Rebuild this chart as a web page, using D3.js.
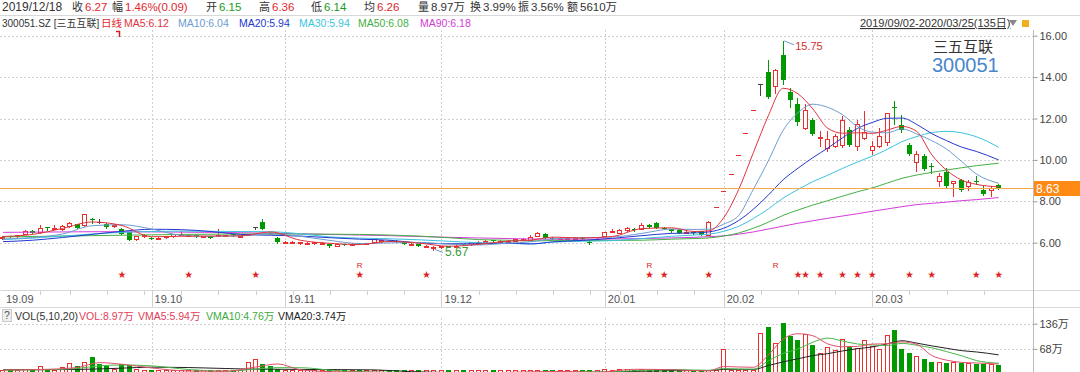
<!DOCTYPE html>
<html>
<head>
<meta charset="utf-8">
<script src="https://cdn.jsdelivr.net/npm/d3@7"></script>
<style>
  body { margin: 0; background: #fff; overflow: hidden; }
  svg { display: block; font-family: "Liberation Sans", "Noto Sans CJK SC", sans-serif; }
</style>
</head>
<body>
<svg id="chart" width="1080" height="372"></svg>
<script>
// ---- data (135 trading days, 2019/09/02 - 2020/03/25) ----
const opens = [6.24,6.30,6.30,6.42,6.58,6.50,6.76,6.70,6.64,6.80, 6.88,6.84,7.16,7.00,6.90,6.82,6.66,6.50,6.18,6.34,
  6.24,6.18,6.27,6.30,6.41,6.34,6.36,6.29,6.30,6.34, 6.34,6.40,6.30,6.40,6.74,7.00,6.48,6.23,6.02,6.03,
  6.00,5.98,5.98,5.96,5.94,5.84,5.94,5.95,5.98,5.96, 6.02,6.06,6.10,6.10,6.02,5.94,5.94,5.84,5.78,5.80,
  5.84,5.82,5.94,5.92,6.00,6.04,6.12,6.08,6.08,6.10, 6.14,6.15,6.34,6.44,6.24,6.22,6.22,6.22,6.25,6.04,
  6.18,6.34,6.56,6.47,6.60,6.64,6.66,6.87,6.95,6.72, 6.66,6.63,6.50,6.52,6.55,6.39,7.71,8.48,9.33,10.26,
  11.29,12.42,13.66,14.23,13.55,15.08,13.26,12.71,11.52,11.91, 11.08,10.57,10.69,10.73,11.46,10.65,11.06,10.46,10.69,10.85,
  12.56,11.70,10.73,9.88,10.20,9.70,8.96,9.40,8.88,9.01, 8.72,8.97,8.53,8.56,8.80];
const highs = [6.30,6.33,6.38,6.62,6.62,6.86,6.78,6.84,6.84,7.00, 6.92,7.40,7.18,7.15,6.94,6.90,6.70,6.52,6.32,6.40,
  6.28,6.26,6.33,6.42,6.55,6.40,6.38,6.34,6.32,6.68, 6.38,6.42,6.34,6.44,6.74,7.16,6.52,6.26,6.06,6.08,
  6.04,6.02,6.02,6.01,5.96,5.94,5.96,5.98,6.00,6.00, 6.20,6.14,6.14,6.12,6.04,5.98,5.96,5.89,5.82,5.84,
  5.86,5.88,5.96,6.03,6.06,6.12,6.14,6.14,6.12,6.20, 6.24,6.36,6.50,6.46,6.28,6.26,6.28,6.26,6.27,6.06,
  6.24,6.54,6.66,6.66,6.76,6.70,6.94,6.90,7.00,6.76, 6.68,6.65,6.56,6.54,6.58,7.03,7.71,8.48,9.33,10.26,
  11.29,12.42,13.66,14.81,14.40,15.75,13.47,12.99,12.71,12.02, 11.38,11.38,11.25,12.13,11.60,11.94,12.34,10.89,11.54,12.27,
  12.83,12.18,10.81,10.41,10.29,9.85,9.37,9.60,8.98,9.08, 9.04,9.20,8.72,8.72,8.84];
const lows = [6.20,6.26,6.28,6.40,6.46,6.48,6.62,6.66,6.60,6.76, 6.70,6.80,6.95,6.95,6.72,6.78,6.40,6.12,6.15,6.28,
  6.18,6.16,6.25,6.28,6.38,6.30,6.28,6.26,6.22,6.32, 6.30,6.34,6.28,6.36,6.65,6.66,6.44,6.00,5.98,6.00,
  5.96,5.95,5.94,5.94,5.80,5.82,5.90,5.92,5.93,5.93, 6.00,6.03,6.06,6.02,5.94,5.90,5.84,5.80,5.67,5.76,
  5.78,5.80,5.88,5.90,5.98,6.02,6.04,6.06,6.06,6.08, 6.12,6.14,6.32,6.22,6.20,6.18,6.20,6.18,6.18,5.92,
  6.14,6.32,6.52,6.45,6.58,6.58,6.64,6.74,6.70,6.66, 6.52,6.45,6.48,6.44,6.37,6.37,7.71,8.48,9.33,10.26,
  11.29,12.42,13.15,12.99,13.23,13.68,12.56,11.70,11.49,11.20, 10.69,10.41,10.60,10.62,10.65,10.49,11.00,10.30,10.60,10.70,
  11.73,11.33,10.25,9.44,9.50,9.37,8.72,8.70,8.24,8.48, 8.56,8.85,8.32,8.24,8.60];
const closes = [6.28,6.29,6.35,6.58,6.48,6.72,6.74,6.72,6.80,6.95, 6.72,7.38,7.14,7.00,6.74,6.86,6.42,6.14,6.30,6.35,
  6.22,6.23,6.30,6.40,6.42,6.36,6.30,6.31,6.23,6.36, 6.36,6.36,6.32,6.42,6.74,6.68,6.46,6.02,6.04,6.04,
  6.02,6.00,6.01,5.99,5.82,5.92,5.92,5.96,5.95,5.97, 6.18,6.12,6.09,6.04,5.96,5.95,5.85,5.86,5.80,5.82,
  5.80,5.86,5.90,6.01,6.04,6.10,6.06,6.09,6.10,6.18, 6.18,6.27,6.46,6.24,6.23,6.23,6.24,6.23,6.20,6.02,
  6.20,6.50,6.57,6.63,6.70,6.62,6.87,6.76,6.71,6.70, 6.55,6.47,6.53,6.47,6.39,7.01,7.71,8.48,9.33,10.26,
  11.29,12.42,13.66,13.02,14.32,13.87,12.91,11.81,12.42,11.27, 11.12,11.01,11.14,11.91,10.73,11.75,11.33,10.69,11.17,12.27,
  12.52,11.46,10.30,10.29,9.56,9.66,9.24,8.75,8.96,8.53, 8.91,8.96,8.37,8.64,8.63];
// volume, unit: 万
const volumes = [10,8,9,14,10,21,9,10,19,30, 21,33,45,26,21,15,26,24,14,10,
  9,7,8,9,10,7,8,6,7,10, 7,6,7,33,42,26,21,15,10,7,
  6,5,6,5,8,6,5,4,5,4, 7,6,3,2.8,3,2.5,3,2.5,3.2,2.4,
  2.5,2.3,4,4,3.5,3.4,3,5,5,5, 5.7,8.97,10,8,5,4,4,4,5,6,
  5,14,12,13,14,12,15,12,13,10, 9,8,7,7,9,12,6,68,5,5,
  6,8,110,128,85,137,103,92,107,79, 58,72,64,96,72,70,92,75,67,105,
  120,68,58,50,42,33,33,30,32,30, 30,28,26,27,25];

const maIdx = [0,4,8,12,16,20,24,28,32,36, 40,44,48,52,56,60,64,68,71,74, 78,82,86,90,93,95,97,99,101,103,
  105,107,109,111,113,115,117,119,121,123, 125,127,129,131,134];
const ma5 = [6.30,6.40,6.69,7.00,6.83,6.29,6.31,6.32,6.33,6.52, 6.12,5.97,5.91,6.06,5.98,5.83,5.92,6.08,6.12,6.27,
  6.23,6.30,6.68,6.72,6.54,6.57,7.21,8.56,10.36,12.13, 13.46,13.19,12.46,11.53,11.29,11.31,11.28,11.44,11.62,11.37,
  10.25,9.50,9.03,8.82,8.70];
const ma10 = [6.18,6.25,6.42,6.82,6.87,6.66,6.36,6.31,6.34,6.42, 6.31,6.11,5.96,5.99,6.01,5.93,5.89,5.98,6.04,6.19,
  6.24,6.27,6.45,6.66,6.64,6.65,6.90,7.31,8.59,9.95, 11.43,12.28,12.69,12.54,12.18,11.61,11.34,11.31,11.50,11.25,
  10.93,10.52,9.93,9.32,8.87];
const ma20 = [6.05,6.12,6.25,6.40,6.55,6.65,6.63,6.54,6.40,6.36, 6.32,6.24,6.17,6.12,5.99,5.95,5.95,5.98,5.94,6.04,
  6.11,6.21,6.34,6.45,6.47,6.52,6.70,7.07,7.62,8.30, 9.04,9.60,10.11,10.57,11.07,11.52,11.81,12.01,12.02,11.71,
  11.27,10.93,10.62,10.41,10.00];
const ma30 = [6.15,6.22,6.32,6.42,6.50,6.54,6.56,6.55,6.54,6.53, 6.43,6.28,6.22,6.19,6.14,6.07,6.00,5.97,5.94,6.03,
  6.07,6.10,6.20,6.31,6.37,6.41,6.55,6.79,7.17,7.63, 8.16,8.57,8.95,9.26,9.59,9.90,10.18,10.51,10.88,11.13,
  11.32,11.38,11.31,11.12,10.61];
const ma50 = [6.28,6.30,6.32,6.34,6.36,6.38,6.40,6.41,6.42,6.42, 6.42,6.41,6.40,6.37,6.32,6.24,6.15,6.12,6.08,6.11,
  6.11,6.11,6.12,6.17,6.20,6.23,6.32,6.47,6.70,6.99, 7.32,7.58,7.82,8.03,8.25,8.46,8.65,8.88,9.11,9.27,
  9.40,9.51,9.62,9.72,9.84];
const ma90 = [6.50,6.51,6.52,6.53,6.53,6.52,6.51,6.50,6.48,6.46, 6.43,6.40,6.37,6.34,6.30,6.26,6.23,6.20,6.18,6.17,
  6.17,6.18,6.20,6.23,6.26,6.29,6.33,6.41,6.52,6.66, 6.80,6.94,7.06,7.18,7.29,7.40,7.52,7.63,7.74,7.84,
  7.90,7.96,8.03,8.08,8.18];

const volIdx = [0,5,10,13,16,20,25,30,34,37, 40,45,50,55,60,65,71,75,80,85, 90,95,97,99,101,103,105,107,109,111,
  113,115,117,119,121,123,125,127,129,131,134];
const vma5 = [11,12.4,17.8,31,26.6,16.6,8.2,7.6,19,27.4, 11.8,6,5,3.5,2.7,3.4,5.94,7.2,4.8,13,
  11.8,8.6,20.4,19.2,18.4,51.4,94.4,109,103.6,81.6, 73.8,74.8,81,81.8,87,80.2,50.2,37.6,31.6,30,27.2];
const vma10 = [11,11.5,15.1,22.4,24.6,22.3,12.4,7.9,13.3,17.4, 17.3,8.9,5.5,4.2,3.1,3.1,4.76,6.0,6.0,8.9,
  12.4,10.2,14.9,13.6,13.3,35.7,55.8,67.9,86.1,97.1, 89.3,81.3,78.5,77.1,82.9,77.7,71,60.6,49.6,36.6,29.4];
const vma20 = [12,12,12.5,14,16,18.7,17.7,15.1,13.3,13.1, 12.6,12.1,11.4,6.6,4.3,3.7,3.74,4.5,5.0,7.4,
  9.2,9.6,12.9,12.8,12.6,23.2,33,41.4,49.9,55.2, 62.5,68.6,73.2,81.6,90,83.5,76.2,69.6,63.4,59.8,52];

const monthLabels = ["19.09","19.10","19.11","19.12","20.01","20.02","20.03"];
const monthStart = [0,20,38,59,81,97,117];
// first trading day of each week (minor ticks on the date strip)
const weekStart = [5,9,14,19,24,29,34,39,44,49,54,64,69,74,79,83,88,93,102,107,112,122,127,132];
const priceTicks = [6,8,10,12,14,16];
const volTicks = [68,136];
const starDays = [16,25,34,48,57,87,89,95,107,108,110,113,115,117,122,125,131,134];
const rDays = [48,87,104];
const lastPrice = 8.63;
const highMark = {day: 105, value: 15.75};
const lowMark = {day: 58, value: 5.67};

const headerDate = "2019/12/18";
const headerLabels = ["收","幅","开","高","低","均","量","换","振","额"];
const headerValues = ["6.27","1.46%(0.09)","6.15","6.36","6.14","6.26","8.97万","3.99%","3.56%","5610万"];
const maNames = ["MA5","MA10","MA20","MA30","MA50","MA90"];
const maNow = ["6.12","6.04","5.94","5.94","6.08","6.18"];
const volLegend = ["VOL:8.97万","VMA5:5.94万","VMA10:4.76万","VMA20:3.74万"];

// ---- drawing ----
class KLineChart {
  constructor() {
    this.red = "#e8312f";
    this.green = "#009a00";
    this.svg = d3.select("#chart");
    this.initScales();
    this.drawGrid();
    this.drawCandles();
    this.drawMaLines();
    this.drawMarks();
    this.drawVolume();
    this.drawAxes();
    this.drawHeader();
  }

  initScales() {
    this.x = d3.scaleBand()
      .domain(d3.range(closes.length))
      .range([-0.7, 1002.35])
      .paddingInner(0.3)
      .paddingOuter(0.15);
    this.cx = (i) => this.x(i) + this.x.bandwidth() / 2;
    this.y = d3.scaleLinear().domain([6, 16]).range([242.7, 35.7]);
    this.vy = d3.scaleLinear().domain([0, 136]).range([374.1, 323.7]);
    this.right = 1033;
  }

  drawGrid() {
    let g = this.svg.append("g");
    g.selectAll(".pg").data(priceTicks).join("line")
      .attr("x1", 0).attr("x2", this.right)
      .attr("y1", d => Math.round(this.y(d)) + 0.5).attr("y2", d => Math.round(this.y(d)) + 0.5)
      .attr("stroke", "#d0d0d0").attr("stroke-dasharray", "2,2");
    g.selectAll(".vg").data(volTicks).join("line")
      .attr("x1", 0).attr("x2", this.right)
      .attr("y1", d => Math.round(this.vy(d)) + 0.5).attr("y2", d => Math.round(this.vy(d)) + 0.5)
      .attr("stroke", "#d0d0d0").attr("stroke-dasharray", "2,2");
    let months = monthStart.slice(1);
    g.selectAll(".mg").data(months).join("line")
      .attr("x1", d => Math.round(this.cx(d)) + 0.5).attr("x2", d => Math.round(this.cx(d)) + 0.5)
      .attr("y1", 30).attr("y2", 290)
      .attr("stroke", "#d0d0d0").attr("stroke-dasharray", "2,2");
    g.selectAll(".mg2").data(months).join("line")
      .attr("x1", d => Math.round(this.cx(d)) + 0.5).attr("x2", d => Math.round(this.cx(d)) + 0.5)
      .attr("y1", 318).attr("y2", 372)
      .attr("stroke", "#d0d0d0").attr("stroke-dasharray", "2,2");
    [15.5, 290.5, 307.5].forEach(yy => {
      g.append("line").attr("x1", 0).attr("x2", 1080).attr("y1", yy).attr("y2", yy)
        .attr("stroke", "#d8d8d8");
    });
  }

  candleColor(i) {
    if (closes[i] > opens[i]) return this.red;
    if (closes[i] < opens[i]) return this.green;
    return highs[i] === lows[i] ? this.red : "#444";
  }

  drawCandles() {
    let bw = Math.round(this.x.bandwidth());
    let g = this.svg.append("g");
    let days = d3.range(closes.length);
    let left = (i) => Math.round(this.x(i));
    let mid = (i) => left(i) + Math.floor(bw / 2) + 0.5;

    g.selectAll(".wick").data(days).join("line")
      .attr("x1", mid).attr("x2", mid)
      .attr("y1", i => Math.round(this.y(highs[i])))
      .attr("y2", i => Math.round(this.y(lows[i])) + 1)
      .attr("stroke", i => this.candleColor(i));

    g.selectAll(".body").data(days).join("rect")
      .attr("x", i => closes[i] > opens[i] ? left(i) + 0.5 : left(i))
      .attr("y", i => {
        let top = Math.round(this.y(Math.max(opens[i], closes[i])));
        return closes[i] > opens[i] ? top + 0.5 : top;
      })
      .attr("width", i => closes[i] > opens[i] ? bw - 1 : bw)
      .attr("height", i => {
        let h = Math.round(this.y(Math.min(opens[i], closes[i]))) - Math.round(this.y(Math.max(opens[i], closes[i])));
        return Math.max(h, 1);
      })
      .attr("fill", i => closes[i] > opens[i] ? "#fff" : this.candleColor(i))
      .attr("stroke", i => closes[i] > opens[i] ? this.red : "none");
  }

  drawMaLines() {
    let line = d3.line()
      .x(d => this.cx(d.i))
      .y(d => this.y(d.v))
      .curve(d3.curveMonotoneX);
    let series = [
      {values: ma90, color: "#d23cd8"},
      {values: ma50, color: "#44b044"},
      {values: ma30, color: "#3cc3e0"},
      {values: ma20, color: "#2437d0"},
      {values: ma10, color: "#6e9cd0"},
      {values: ma5, color: "#e0343c"},
    ];
    series.forEach(s => {
      this.svg.append("path")
        .datum(maIdx.map((i, k) => ({i: i, v: s.values[k]})))
        .attr("d", line)
        .attr("fill", "none")
        .attr("stroke", s.color)
        .attr("stroke-width", 1);
    });
  }

  drawMarks() {
    let g = this.svg.append("g");
    let py = Math.round(this.y(lastPrice)) + 0.5;
    g.append("line").attr("x1", 0).attr("x2", this.right).attr("y1", py).attr("y2", py)
      .attr("stroke", "#f7a94f").attr("stroke-width", 1);
    g.append("rect").attr("x", this.right).attr("y", py - 7.5).attr("width", 47).attr("height", 15)
      .attr("fill", "#ff8a14");
    g.append("text").attr("x", this.right + 3).attr("y", py + 4).text(lastPrice.toFixed(2))
      .attr("fill", "#fff").attr("font-size", 12);

    let hx = this.cx(highMark.day), hy = this.y(highMark.value);
    g.append("path").attr("d", `M${hx + 1},${hy} L${hx + 11},${hy + 4}`).attr("stroke", "#6e9cd0").attr("fill", "none");
    g.append("text").attr("x", hx + 12).attr("y", hy + 9).text(highMark.value.toFixed(2))
      .attr("fill", "#d03030").attr("font-size", 11);
    let lx = this.cx(lowMark.day), ly = this.y(lowMark.value);
    g.append("path").attr("d", `M${lx + 1},${ly} L${lx + 9},${ly + 3}`).attr("stroke", "#6e9cd0").attr("fill", "none");
    g.append("text").attr("x", lx + 11).attr("y", ly + 6).text(lowMark.value.toFixed(2))
      .attr("fill", "#3a9a3a").attr("font-size", 12);

    g.selectAll(".star").data(starDays).join("text")
      .attr("x", i => this.cx(i)).attr("y", 277).attr("text-anchor", "middle")
      .attr("font-size", 8).attr("fill", "#e02020").text("★");
    g.selectAll(".rmark").data(rDays).join("text")
      .attr("x", i => this.cx(i)).attr("y", 268).attr("text-anchor", "middle")
      .attr("font-size", 8).attr("fill", "#e02020").text("R");

    g.append("text").attr("x", 933).attr("y", 52).text("三五互联")
      .attr("fill", "#333").attr("font-size", 15).attr("font-family", "Noto Sans CJK SC");
    g.append("text").attr("x", 932).attr("y", 72).text("300051")
      .attr("fill", "#4a87cc").attr("font-size", 20);
  }

  drawVolume() {
    let bw = Math.round(this.x.bandwidth());
    let g = this.svg.append("g");
    let days = d3.range(volumes.length);
    let left = (i) => Math.round(this.x(i));
    let up = (i) => closes[i] > opens[i] || (closes[i] === opens[i] && (i === 0 || closes[i] >= closes[i - 1]));
    let base = 372;
    g.selectAll(".vbar").data(days).join("rect")
      .attr("x", i => up(i) ? left(i) + 0.5 : left(i))
      .attr("y", i => Math.round(Math.min(this.vy(volumes[i]), base - 2)) + (up(i) ? 0.5 : 0))
      .attr("width", i => up(i) ? bw - 1 : bw)
      .attr("height", i => base + 5 - Math.round(Math.min(this.vy(volumes[i]), base - 2)))
      .attr("fill", i => up(i) ? "#fff" : this.green)
      .attr("stroke", i => up(i) ? this.red : "none");

    let line = d3.line()
      .x(d => this.cx(d.i))
      .y(d => this.vy(d.v))
      .curve(d3.curveMonotoneX);
    [{values: vma20, color: "#222"}, {values: vma10, color: "#47b847"}, {values: vma5, color: "#e0506a"}]
      .forEach(s => {
        g.append("path")
          .datum(volIdx.map((i, k) => ({i: i, v: s.values[k]})))
          .attr("d", line)
          .attr("fill", "none")
          .attr("stroke", s.color);
      });
  }

  drawAxes() {
    let g = this.svg.append("g");
    g.append("line").attr("x1", this.right + 0.5).attr("x2", this.right + 0.5)
      .attr("y1", 30).attr("y2", 372).attr("stroke", "#bbb");

    let pa = g.append("g").attr("transform", `translate(${this.right + 0.5},0)`)
      .call(d3.axisRight(this.y).tickValues(priceTicks).tickFormat(d3.format(".2f")).tickSize(4).tickPadding(2));
    let va = g.append("g").attr("transform", `translate(${this.right + 0.5},0)`)
      .call(d3.axisRight(this.vy).tickValues(volTicks).tickFormat(d => d + "万").tickSize(4).tickPadding(2));
    [pa, va].forEach(a => {
      a.select(".domain").remove();
      a.selectAll("line").attr("stroke", "#999");
      a.selectAll("text").attr("fill", "#444").attr("font-size", 11)
        .attr("font-family", "Liberation Sans, Noto Sans CJK SC");
    });

    g.selectAll(".mlab").data(monthLabels).join("text")
      .attr("x", (d, k) => this.cx(monthStart[k]) + 3)
      .attr("y", 303)
      .attr("font-size", 11).attr("fill", "#555").text(d => d);
    g.selectAll(".mline").data(monthStart.slice(1)).join("line")
      .attr("x1", d => Math.round(this.cx(d)) + 0.5).attr("x2", d => Math.round(this.cx(d)) + 0.5)
      .attr("y1", 290).attr("y2", 307).attr("stroke", "#d0d0d0");
    g.selectAll(".wtick").data(weekStart).join("line")
      .attr("x1", d => Math.round(this.cx(d)) + 0.5).attr("x2", d => Math.round(this.cx(d)) + 0.5)
      .attr("y1", 291).attr("y2", 295).attr("stroke", "#cfcfcf");
  }

  drawHeader() {
    let red = "#e0282e", green = "#1a9a1a", dark = "#333";
    let g = this.svg.append("g").attr("font-size", 11.5);
    g.append("text").attr("x", 2).attr("y", 11).attr("fill", dark).attr("font-size", 12).text(headerDate);
    let valueColor = [red, red, green, red, green, red, dark, dark, dark, dark];
    let labelX = [72, 112, 206, 259, 311, 364, 418, 470, 518, 567];
    headerLabels.forEach((l, k) => {
      g.append("text").attr("x", labelX[k]).attr("y", 11).attr("fill", dark).attr("font-size", 11).text(l);
      g.append("text").attr("x", labelX[k] + 13).attr("y", 11).attr("fill", valueColor[k]).text(headerValues[k]);
    });

    let g2 = this.svg.append("g").attr("font-size", 10.5);
    g2.append("text").attr("x", 2).attr("y", 27).attr("fill", dark).attr("font-size", 10).text("300051.SZ [三五互联]");
    g2.append("text").attr("x", 101).attr("y", 27).attr("fill", "#e0282e").text("日线");
    g2.append("path").attr("d", "M116,31.5 H119.5 V37").attr("stroke", "#d02020").attr("stroke-width", 1.5).attr("fill", "none");
    let maX = [124, 178, 239, 299, 358, 420];
    let maColor = ["#e0343c", "#6e9cd0", "#2437d0", "#3cc3e0", "#44b044", "#d23cd8"];
    maNames.forEach((n, k) => {
      g2.append("text").attr("x", maX[k]).attr("y", 27).attr("fill", maColor[k]).text(`${n}:${maNow[k]}`);
    });

    g2.append("text").attr("x", 860).attr("y", 27).attr("fill", dark).attr("font-size", 11)
      .attr("text-decoration", "underline").text("2019/09/02-2020/03/25(135日)");
    g2.append("path").attr("d", "M1009,20 L1017,20 L1013,26 Z").attr("fill", "#888");
    g2.append("rect").attr("x", 1022).attr("y", 20).attr("width", 7).attr("height", 7).attr("fill", "#f0b020");

    let vg = this.svg.append("g").attr("font-size", 10.5);
    vg.append("rect").attr("x", 2.5).attr("y", 309.5).attr("width", 9).attr("height", 12).attr("fill", "#eee").attr("stroke", "#ccc");
    vg.append("text").attr("x", 4).attr("y", 319).attr("fill", "#555").text("?");
    vg.append("text").attr("x", 15).attr("y", 320).attr("fill", dark).text("VOL(5,10,20)");
    let vx = [79, 138, 206, 278];
    let vc = ["#e0405a", "#e0405a", "#3caa3c", "#222"];
    volLegend.forEach((t, k) => {
      vg.append("text").attr("x", vx[k]).attr("y", 320).attr("fill", vc[k]).text(t);
    });
  }
}

new KLineChart();
</script>
</body>
</html>
